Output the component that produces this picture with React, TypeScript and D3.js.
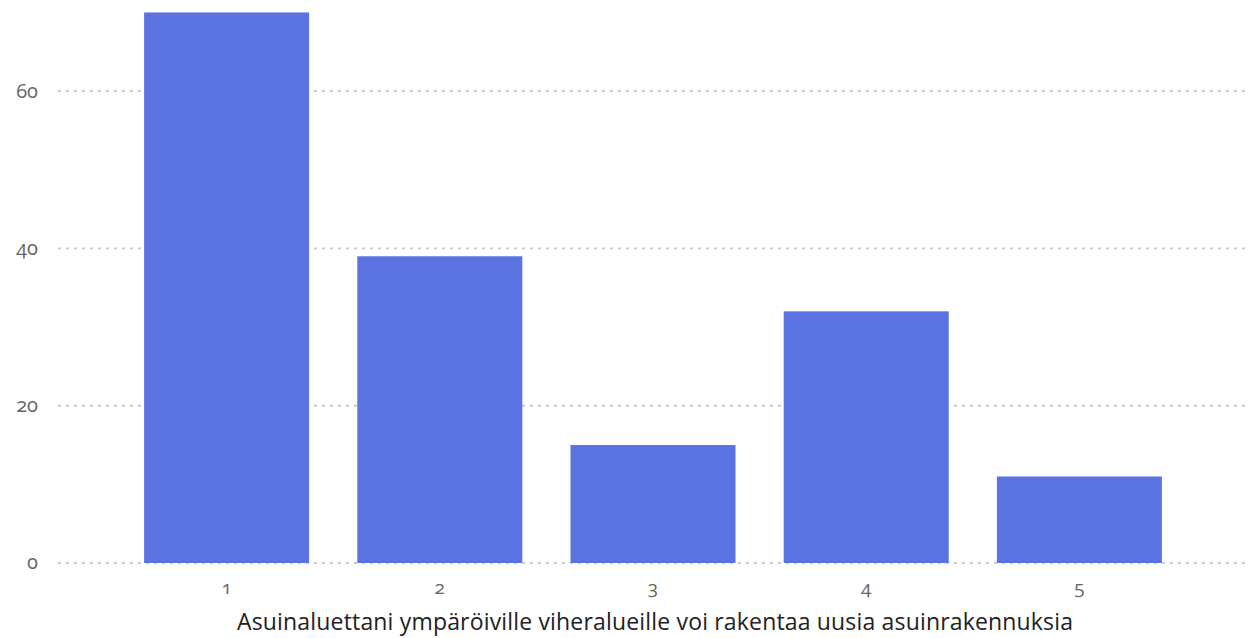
import { scaleBand, scaleLinear } from 'd3'

const categories = ['1', '2', '3', '4', '5']
const counts = [70, 39, 15, 32, 11]
const yTicks = [0, 20, 40, 60]
const xTitle = 'Asuinaluettani ympäröiville viheralueille voi rakentaa uusia asuinrakennuksia'

const width = 1250
const height = 638
const font = "'Open Sans', Lato, sans-serif"
const tickStyle = { fontFeatureSettings: "'onum' 1", fontVariantNumeric: 'oldstyle-nums' }

function App() {
  const xScale = scaleBand()
    .domain(categories)
    .range([120, 1186])
    .paddingInner(0.226)
    .paddingOuter(0.113)

  const yScale = scaleLinear().domain([0, 20]).range([563, 405.7])

  return (
    <svg
      width={width}
      height={height}
      style={{ position: 'absolute', left: 0, top: 0, fontFamily: font }}
    >
      {yTicks.map((t) => (
        <g key={t} transform={`translate(0,${yScale(t)})`}>
          <line x1={58} x2={width} stroke="#cccccc" strokeWidth={2} strokeDasharray="3 5" />
          <text x={38} dy=".32em" textAnchor="end" fill="#666" fontSize={20} style={tickStyle}>
            {t}
          </text>
        </g>
      ))}
      {categories.map((c, i) => (
        <rect
          key={c}
          x={xScale(c)}
          y={yScale(counts[i])}
          width={xScale.bandwidth()}
          height={yScale(0) - yScale(counts[i])}
          fill="#5b73e0"
        />
      ))}
      {categories.map((c) => (
        <text
          key={c}
          x={xScale(c)! + xScale.bandwidth() / 2}
          y={594}
          textAnchor="middle"
          fill="#666"
          fontSize={19}
          style={tickStyle}
        >
          {c}
        </text>
      ))}
      <text x={655} y={630} textAnchor="middle" fill="#222" fontSize={23} textLength={836}>
        {xTitle}
      </text>
    </svg>
  )
}

export default App
